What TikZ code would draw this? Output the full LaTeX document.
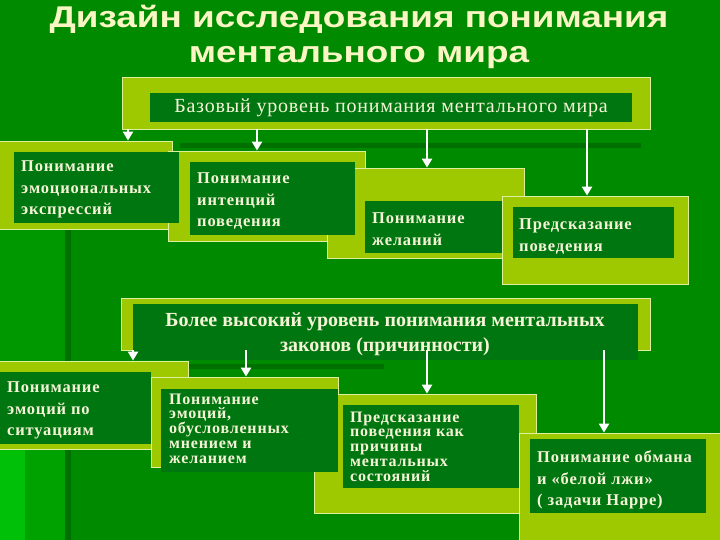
\documentclass[tikz,border=0pt]{standalone}
\usepackage{fontspec}
\setmainfont{Liberation Serif}
\newfontfamily\ttlfont{Liberation Sans}[FakeStretch=1.23]
\newfontfamily\bxfont{Liberation Serif}[LetterSpace=5]
\newfontfamily\hdfont{Liberation Serif}[LetterSpace=4]
\usetikzlibrary{fit,arrows.meta}
\definecolor{bg}{RGB}{0,138,0}
\definecolor{bgleft}{RGB}{0,152,0}
\definecolor{bgbright}{RGB}{0,192,8}
\definecolor{bgmid}{RGB}{0,162,0}
\definecolor{bgdark}{RGB}{0,112,0}
\definecolor{panel}{RGB}{158,200,0}
\definecolor{panelrim}{RGB}{222,240,160}
\definecolor{inner}{RGB}{0,118,16}
\definecolor{cream}{RGB}{246,244,214}
\definecolor{titlecol}{RGB}{250,246,196}
\tikzset{
  lightbox/.style={fill=panel, draw=panelrim, line width=0.8pt, inner sep=0pt},
  darkbox/.style={fill=inner, inner sep=0pt},
  arr/.style={draw=white, line width=2.6pt, -{Triangle[width=10pt,length=9pt]}},
  boxtext/.style={text=cream, anchor=north west, inner sep=0pt, align=left,
    font=\bxfont\bfseries\fontsize{16.5}{21.5}\selectfont},
  tighttext/.style={boxtext, font=\bxfont\bfseries\fontsize{16}{14.8}\selectfont},
  titletext/.style={text=titlecol, anchor=base, inner sep=0pt,
    font=\ttlfont\bfseries\fontsize{30}{35}\selectfont}
}
\begin{document}
\begin{tikzpicture}[x=1pt,y=-1pt]
\useasboundingbox (0,0) rectangle (720,540);
\clip (0,0) rectangle (720,540);
% background
\fill[bg] (0,0) rectangle (720,540);
\fill[bgleft] (0,230) rectangle (66,540);
\fill[bgmid] (0,450) rectangle (66,540);
\fill[bgbright] (0,450) rectangle (25,540);
\fill[bgdark] (65,230) rectangle (71,540);
\fill[bgdark] (180,143) rectangle (641,148);
\fill[bgdark] (188,364) rectangle (384,369);
% title
\node[titletext] (title1) at (359,28) {Дизайн исследования понимания};
\node[titletext] (title2) at (359,63) {ментального мира};
% top panel
\node[lightbox, fit={(122,77) (650,129)}] (topL) {};
\node[darkbox, fit={(150,93) (632,122)}] (topD) {};
\node[text=cream, anchor=base, inner sep=0pt, font=\hdfont\fontsize{20}{22}\selectfont] (topT) at (391,113) {Базовый уровень понимания ментального мира};
% first row
\node[lightbox, fit={(-3,141) (172,229)}] (L1) {};
\node[lightbox, fit={(168,151) (365,241)}] (L2) {};
\node[lightbox, fit={(327,168) (524,258)}] (L3) {};
\node[lightbox, fit={(502,196) (688,284)}] (L4) {};
\node[darkbox, fit={(14,152) (179,223)}] (D1) {};
\node[darkbox, fit={(190,162) (355,235)}] (D2) {};
\node[darkbox, fit={(365,201) (502,253)}] (D3) {};
\node[darkbox, fit={(513,207) (674,258)}] (D4) {};
\node[boxtext] (T1) at (21,160.5) {Понимание\\эмоциональных\\экспрессий};
\node[boxtext] (T2) at (197,172.5) {Понимание\\интенций\\поведения};
\node[boxtext] (T3) at (372,212.5) {Понимание\\желаний};
\node[boxtext] (T4) at (519,218.5) {Предсказание\\поведения};
% middle panel
\node[lightbox, fit={(121,298) (650,350)}] (ML) {};
\node[darkbox, fit={(133,304) (638,360)}] (MD) {};
\node[text=cream, anchor=north, inner sep=0pt, align=center,
  font=\bfseries\fontsize{20}{25}\selectfont] (MT) at (385,313) {Более высокий уровень понимания ментальных\\законов (причинности)};
% second row
\node[lightbox, fit={(-3,361) (188,449)}] (L5) {};
\node[lightbox, fit={(151,377) (338,467)}] (L6) {};
\node[lightbox, fit={(314,394) (536,513)}] (L7) {};
\node[lightbox, fit={(519,433) (730,550)}] (L8) {};
\node[darkbox, fit={(-3,372) (151,444)}] (D5) {};
\node[darkbox, fit={(161,389) (338,472)}] (D6) {};
\node[darkbox, fit={(343,405) (519,488)}] (D7) {};
\node[darkbox, fit={(530,439) (706,513)}] (D8) {};
\node[boxtext] (T5) at (7,381.5) {Понимание\\эмоций по\\ситуациям};
\node[tighttext] (T6) at (169,393.5) {Понимание\\эмоций,\\обусловленных\\мнением и\\желанием};
\node[tighttext] (T7) at (350,411.5) {Предсказание\\поведения как\\причины\\ментальных\\состояний};
\node[boxtext] (T8) at (537,450.5) {Понимание обмана\\и «белой лжи»\\( задачи Нарре)};
% arrow columns
\coordinate (a1) at (128,0);
\coordinate (a2) at (257,0);
\coordinate (a3) at (427,0);
\coordinate (a4) at (587,0);
\coordinate (b1) at (133,0);
\coordinate (b2) at (246,0);
\coordinate (b3) at (427,0);
\coordinate (b4) at (604,0);
\draw[arr] (topL.south -| a1) -- (L1.north -| a1);
\draw[arr] (topL.south -| a2) -- (L2.north -| a2);
\draw[arr] (topL.south -| a3) -- (L3.north -| a3);
\draw[arr] (topL.south -| a4) -- (L4.north -| a4);
\draw[arr] (ML.south -| b1) -- (L5.north -| b1);
\draw[arr] (ML.south -| b2) -- (L6.north -| b2);
\draw[arr] (ML.south -| b3) -- (L7.north -| b3);
\draw[arr] (ML.south -| b4) -- (L8.north -| b4);
\end{tikzpicture}
\end{document}
